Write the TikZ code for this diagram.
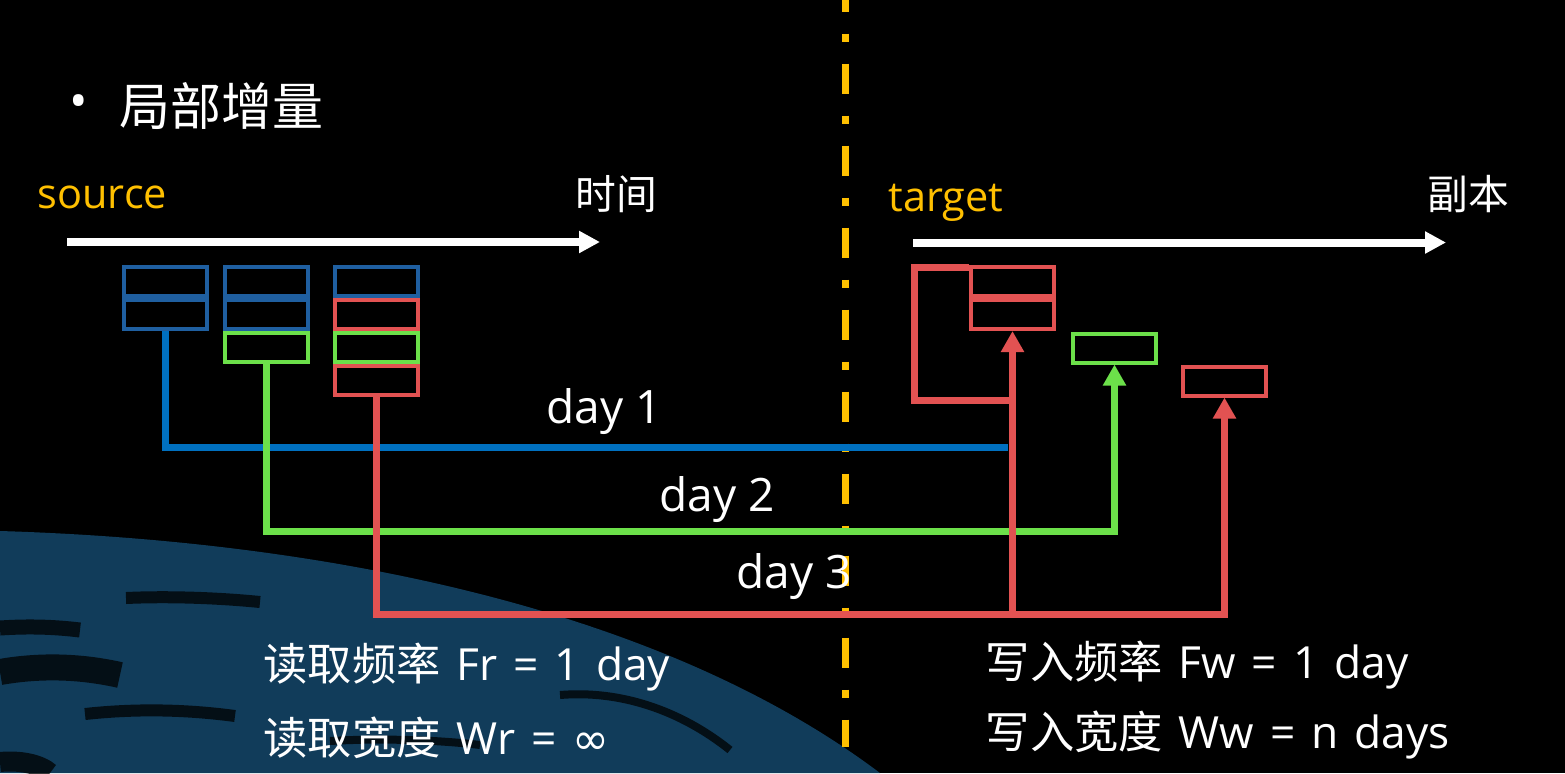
\documentclass[tikz,border=0pt]{standalone}
\usepackage{fontspec}
\setmainfont{Open Sans}
\newfontfamily\zhfont{Noto Sans CJK SC}
\newfontfamily\symfont{DejaVu Sans}
\usetikzlibrary{positioning,matrix,arrows.meta}

\definecolor{srcblue}{RGB}{31,95,160}
\definecolor{lnblue}{RGB}{0,112,192}
\definecolor{dgreen}{RGB}{108,224,74}
\definecolor{dred}{RGB}{226,82,82}
\definecolor{dyellow}{RGB}{255,192,0}
\definecolor{swirl}{RGB}{17,60,90}

\newcommand{\zh}[1]{{\zhfont #1}}
\newcommand{\ratefont}{\fontsize{12.6}{15}\selectfont\spaceskip 0.36em\relax}

\begin{document}
\begin{tikzpicture}
        \tikzset{
            blk/.style={draw,line width=0.04cm,minimum width=0.83cm,minimum height=0.29cm,inner sep=0pt},
            blk blue/.style={blk,draw=srcblue},
            blk green/.style={blk,draw=dgreen},
            blk red/.style={blk,draw=dred},
            conn/.style={line width=0.07cm},
            conn tip/.style={-{Triangle[length=0.21cm,width=0.22cm]}},
            axis/.style={draw=white,line width=0.08cm,-{Triangle[length=0.21cm,width=0.21cm]}},
            txt/.style={text=white,inner sep=0pt,anchor=base west},
            small txt/.style={txt,font=\fontsize{11.8}{14}\selectfont},
            day txt/.style={txt,font=\fontsize{13.1}{16}\selectfont},
            rate txt/.style={txt,font=\ratefont},
            gap/.style={black,opacity=0.75}
        };
        \useasboundingbox (0,0) rectangle (15.65,-7.73);
        \fill[black] (0,0) rectangle (15.65,-7.73);
        % background swirl
        \fill[swirl] (0,-5.31) .. controls (3.0,-5.4) and (6.5,-6.0) .. (8.8,-7.73) -- (0,-7.73) -- cycle;
        \draw[gap,line width=0.12cm] (1.26,-5.98) .. controls (1.7,-5.96) and (2.2,-5.98) .. (2.6,-6.02);
        \draw[gap,line width=0.15cm] (0,-6.28) .. controls (0.3,-6.26) and (0.55,-6.27) .. (0.8,-6.30);
        \draw[gap,line width=0.26cm] (0,-6.72) .. controls (0.4,-6.65) and (0.8,-6.66) .. (1.2,-6.75);
        \draw[gap,line width=0.12cm] (0.85,-7.14) .. controls (1.4,-7.08) and (1.9,-7.1) .. (2.35,-7.16);
        \draw[gap,line width=0.20cm] (0,-7.62) .. controls (0.2,-7.6) and (0.4,-7.64) .. (0.5,-7.73);
        \draw[gap,line width=0.08cm] (3.3,-7.41) .. controls (3.8,-7.38) and (4.4,-7.4) .. (4.8,-7.45);
        \draw[gap,line width=0.08cm] (5.6,-6.95) .. controls (6.2,-6.9) and (6.8,-7.1) .. (7.3,-7.5);
        % divider
        \coordinate (dv0) at (8.45,0.184);
        \coordinate (dv1) at (8.45,-7.47);
        \draw[dyellow,line width=0.07cm,dash pattern=on 0.30cm off 0.22cm on 0.08cm off 0.22cm] (dv0) -- (dv1);
        % source side
        \matrix[
            matrix of nodes,
            row sep=0pt,
            column sep=0.14cm,
            matrix anchor=src-1-1.north west
        ] (src) at (1.217,-2.65) {
            |[blk blue]| & |[blk blue]| &[0.09cm] |[blk blue]| \\
            |[blk blue]| & |[blk blue]| & |[blk red]| \\
                         & |[blk green]| & |[blk green]| \\
                         &               & |[blk red]| \\
        };
        % target side
        \node[blk red] (tgt-1) at (10.125,-2.815) {};
        \node[blk red,below=0pt of tgt-1] (tgt-2) {};
        \node[blk green] (tg2) at (11.145,-3.48) {};
        \node[blk red] (tg3) at (12.245,-3.81) {};
        % time axes
        \coordinate (s0) at (0.67,-2.42);
        \coordinate (s1) at (6.00,-2.42);
        \coordinate (t0) at (9.13,-2.425);
        \coordinate (t1) at (14.46,-2.425);
        \draw[axis] (s0) -- (s1);
        \draw[axis] (t0) -- (t1);
        % copies per day
        \draw[conn,draw=lnblue] (src-2-1.south) -- ++(0,-1.16) -- ++(8.43,0);
        \draw[conn,conn tip,draw=dgreen] (src-3-2.south) -- ++(0,-1.67) -| (tg2.south);
        \draw[conn,conn tip,draw=dred] (src-4-3.south) -- ++(0,-2.17) coordinate (rj) -| (tg3.south);
        \draw[conn,conn tip,draw=dred] (rj) -| (tgt-2.south);
        \draw[conn,draw=dred] (tgt-2.south) ++(0,-0.69) -- ++(-0.985,0) |- ([yshift=-0.02cm]tgt-1.north west);
        % labels
        \node[txt,anchor=center,font=\fontsize{14}{16}\selectfont] (bul) at (0.79,-1.065) {\textbullet};
        \node[txt,anchor=west,font=\zhfont\fontsize{14.5}{17}\selectfont] (head) at (1.185,-1.065) {局部增量};
        \node[small txt,text=dyellow] (src lbl) at (0.37,-2.08) {source};
        \node[small txt,font=\zhfont\fontsize{11.6}{14}\selectfont] (time) at (5.75,-2.09) {时间};
        \node[small txt,text=dyellow] (tgt lbl) at (8.88,-2.11) {target};
        \node[small txt,font=\zhfont\fontsize{11.6}{14}\selectfont] (copy) at (14.27,-2.09) {副本};
        \node[day txt] (d1) at (5.46,-4.23) {day 1};
        \node[day txt] (d2) at (6.59,-5.117) {day 2};
        \node[day txt] (d3) at (7.36,-5.88) {day 3};
        \node[rate txt] (fr) at (2.63,-6.80) {\zh{读取频率} Fr = 1 day};
        \node[rate txt] (wr) at (2.63,-7.54) {\zh{读取宽度} Wr = {\symfont ∞}};
        \node[rate txt] (fw) at (9.85,-6.78) {\zh{写入频率} Fw = 1 day};
        \node[rate txt] (ww) at (9.85,-7.48) {\zh{写入宽度} Ww = n days};
    \end{tikzpicture}
\end{document}
